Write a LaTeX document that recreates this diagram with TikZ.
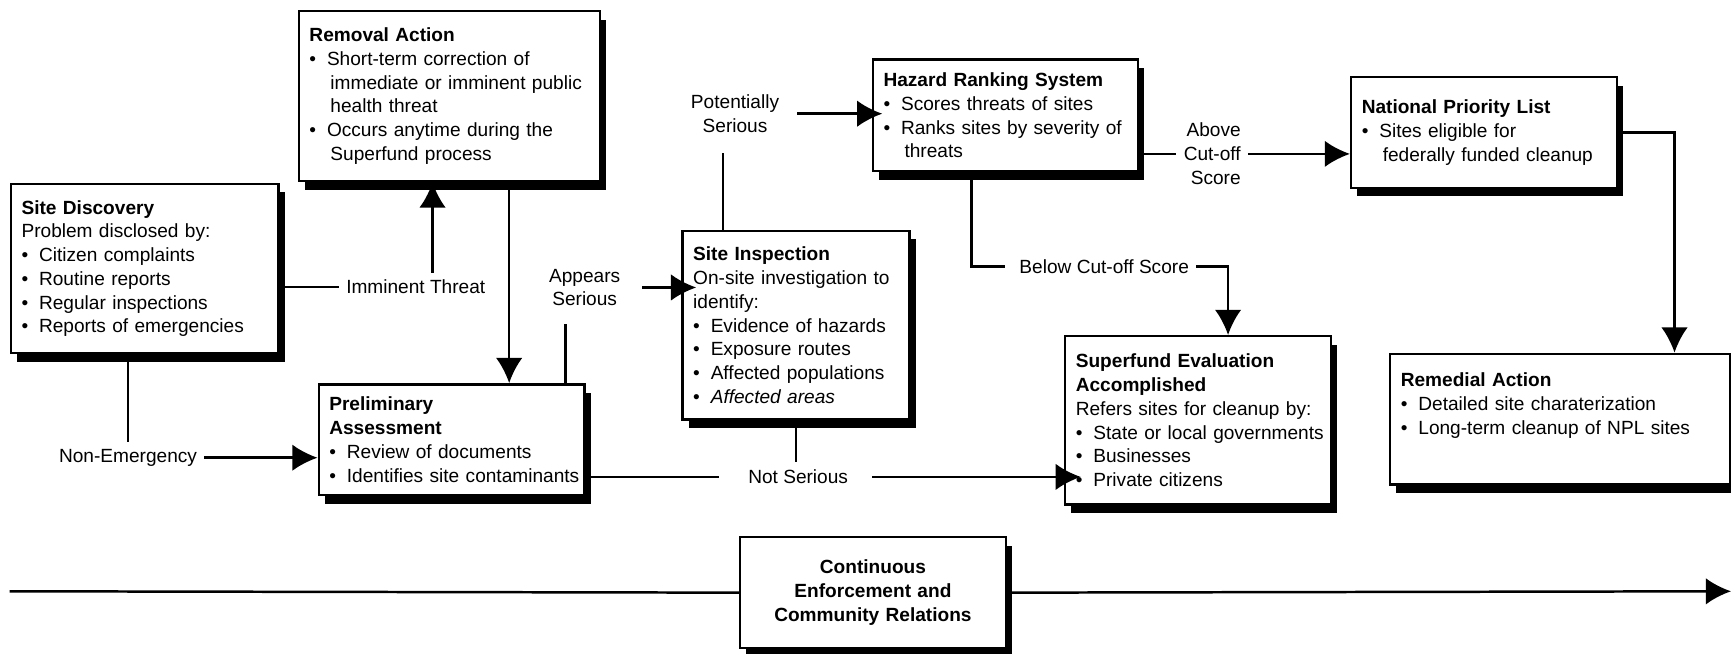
\documentclass[tikz,border=0pt]{standalone}
\usepackage{fontspec}
\setmainfont{Liberation Sans}
\usepackage{tikz}
\usetikzlibrary{shadows, calc, arrows.meta, positioning}
\newcommand{\boxfont}{\fontsize{12.3}{15.3}\selectfont}
\newcommand{\bul}[1]{\mbox{\makebox[0.92em][l]{\textbullet}#1}} % bullet line
\newcommand{\cnt}[1]{\mbox{\hspace*{1.1em}#1}} % wrapped bullet line
\tikzset{
    -{Latex[length=0.57cm, width=0.6cm]}, % every connector ends in the big solid head
    stage/.style 2 args={rectangle, draw, fill=white, anchor=north west, align=left, font=\boxfont,
        inner xsep=0.24cm, inner ysep=0pt, text width=#1, minimum height=#2,
        drop shadow={shadow xshift=0.14cm, shadow yshift=-0.19cm, fill=black, opacity=1}}, % process box with black shadow
    cond/.style={align=center, font=\boxfont, inner sep=4pt}, % words written on a connector
    bare/.style={-} % connector piece with no head
}
\begin{document}
\begin{tikzpicture}[line width=1.6pt]
    \useasboundingbox (0,0) rectangle (39.2,-14.8);
    % the process boxes
    \node[stage={5.58cm}{3.83cm}] (sitedisc) at (0.22,-4.14) {\textbf{Site Discovery}\\ Problem disclosed by:\\ \bul{Citizen complaints}\\ \bul{Routine reports}\\ \bul{Regular inspections}\\ \bul{Reports of emergencies}};
    \node[stage={6.345cm}{3.85cm}] (removal) at (6.74,-0.225) {\textbf{Removal Action}\\ \bul{Short-term correction of}\\ \cnt{immediate or imminent public}\\ \cnt{health threat}\\ \bul{Occurs anytime during the}\\ \cnt{Superfund process}};
    \node[stage={5.54cm}{2.51cm}] (prelim) at (7.19,-8.675) {\textbf{Preliminary}\\ \textbf{Assessment}\\ \bul{Review of documents}\\ \bul{Identifies site contaminants}};
    \node[stage={4.66cm}{4.275cm}] (siteinsp) at (15.43,-5.2) {\textbf{Site Inspection}\\ On-site investigation to\\ identify:\\ \bul{Evidence of hazards}\\ \bul{Exposure routes}\\ \bul{Affected populations}\\ \bul{\textit{Affected areas}}};
    \node[stage={5.525cm}{2.53cm}] (hrs) at (19.74,-1.32) {\textbf{Hazard Ranking System}\\ \bul{Scores threats of sites}\\ \bul{Ranks sites by severity of}\\ \cnt{threats}};
    \node[stage={5.545cm}{2.505cm}] (npl) at (30.57,-1.72) {\textbf{National Priority List}\\ \bul{Sites eligible for}\\ \cnt{federally funded cleanup}};
    \node[stage={5.535cm}{3.81cm}] (sfe) at (24.095,-7.585) {\textbf{Superfund Evaluation}\\ \textbf{Accomplished}\\ Refers sites for cleanup by:\\ \bul{State or local governments}\\ \bul{Businesses}\\ \bul{Private citizens}};
    \node[stage={7.215cm}{2.96cm}] (remedial) at (31.455,-7.985) {\textbf{Remedial Action}\\ \bul{Detailed site charaterization}\\ \bul{Long-term cleanup of NPL sites}\\ \strut};
    \node[stage={5.54cm}{2.51cm}, align=center, font=\boxfont\bfseries] (cerbox) at (16.73,-12.1375) {Continuous\\ Enforcement and\\ Community Relations};

    % words on the connectors
    \node[cond] (imm) at (9.415,-6.5) {Imminent Threat};
    \node[cond] (app) at (13.24,-6.51) {Appears\\ Serious};
    \node[cond] (pot) at (16.645,-2.575) {Potentially\\ Serious};
    \node[cond] (nonem) at (2.9,-10.365) {Non-Emergency};
    \node[cond] (notser) at (18.075,-10.8) {Not Serious};
    \node[cond] (below) at (25.005,-6.0375) {Below Cut-off Score};
    \node[cond, align=right, anchor=east] (above) at (28.265,-3.485) {Above\\ Cut-off\\ Score};
    \coordinate (tl) at (0.22,-13.39);
    \coordinate (tr) at (39.2,-13.39);

    % connectors
    \draw[bare] (sitedisc.east |- imm.west) -- (imm.west);
    \draw ([xshift=0.38cm]imm.north) -- ([xshift=0.38cm]imm.north |- removal.south);
    \draw ([xshift=1.35cm]removal.south) -- ([xshift=1.35cm]removal.south |- prelim.north);
    \draw[bare] ([xshift=2.58cm]prelim.north) -- ++(0,1.33);
    \draw ([xshift=0.335cm]app.east) -- ([xshift=0.335cm]app.east -| siteinsp.west);
    \draw[bare] ([xshift=-1.66cm]siteinsp.north) -- ++(0,1.73);
    \draw ([xshift=0.24cm]pot.east) -- ([xshift=0.24cm]pot.east -| hrs.west);
    \draw[bare] ([xshift=-0.77cm]hrs.south) |- ([xshift=-0.15cm]below.west);
    \draw (below.east) -| ([xshift=0.68cm]sfe.north);
    \draw[bare] (above.west -| hrs.east) -- (above.west);
    \draw (above.east) -- (above.east -| npl.west);
    \draw (npl.east) -| ([xshift=2.59cm]remedial.north);
    \draw[bare] (sitedisc.south -| nonem.north) -- (nonem.north);
    \draw (nonem.east) -- (nonem.east -| prelim.west);
    \draw[bare] (notser.west -| prelim.east) -- ([xshift=-0.5cm]notser.west);
    \draw[bare] (siteinsp.south) -- (siteinsp.south |- notser.north);
    \draw ([xshift=0.38cm]notser.east) -- ([xshift=0.38cm]notser.east -| sfe.west);
    \draw[bare] (tl) -- (cerbox.west);
    \draw (cerbox.east) -- (tr);
\end{tikzpicture}
\end{document}
